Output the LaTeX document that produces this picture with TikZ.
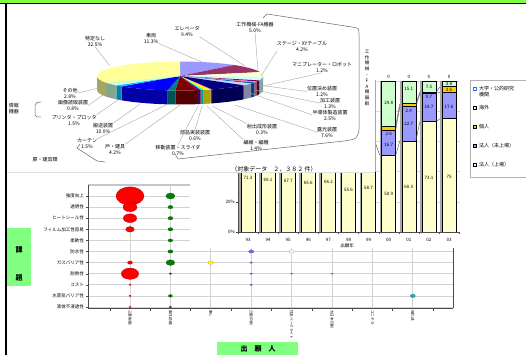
\documentclass[tikz,border=0pt]{standalone}
\usepackage{fontspec}
\newfontfamily\jp{Noto Sans CJK JP}
\usetikzlibrary{calc}

\definecolor{bandgreen}{RGB}{128,255,64}
\definecolor{taggreen}{RGB}{128,255,128}
% pie slices (clockwise from the top)
\definecolor{pieA}{HTML}{9999FF}
\definecolor{pieB}{HTML}{993366}
\definecolor{pieC}{HTML}{FFFFCC}
\definecolor{pieD}{HTML}{CCFFFF}
\definecolor{pieE}{HTML}{660066}
\definecolor{pieF}{HTML}{FF8080}
\definecolor{pieG}{HTML}{0066CC}
\definecolor{pieH}{HTML}{CCCCFF}
\definecolor{pieI}{HTML}{000080}
\definecolor{pieJ}{HTML}{FF00FF}
\definecolor{pieK}{HTML}{FFFF00}
\definecolor{pieL}{HTML}{00FFFF}
\definecolor{pieM}{HTML}{800080}
\definecolor{pieN}{HTML}{800000}
\definecolor{pieO}{HTML}{008080}
\definecolor{pieP}{HTML}{0000FF}
\definecolor{pieQ}{HTML}{00CCFF}
\definecolor{pieR}{HTML}{CCFFFF}
\definecolor{pieS}{HTML}{CCFFCC}
\definecolor{pieT}{HTML}{FFFF99}
% bar series
\definecolor{barlist}{HTML}{FFFFCC}
\definecolor{barunl}{HTML}{9999FF}
\definecolor{barind}{HTML}{FFCC00}
\definecolor{barfor}{HTML}{CCFFCC}
\definecolor{baruni}{HTML}{3366FF}
% bubbles
\definecolor{bubred}{HTML}{FF0000}
\definecolor{bubgreen}{HTML}{008000}
\definecolor{bubyellow}{HTML}{FFFF00}
\definecolor{bubblue}{HTML}{7070E0}
\definecolor{bubcream}{HTML}{FFFFE0}
\definecolor{bubgray}{HTML}{909090}
\definecolor{bubteal}{HTML}{20B0B0}

\tikzset{
  jtxt/.style={font=\jp\fontsize{5}{6}\selectfont,inner sep=0pt,align=center},
  numtxt/.style={font=\jp\fontsize{4.5}{5}\selectfont,inner sep=0pt},
  coltxt/.style={font=\jp\fontsize{3.6}{4}\selectfont,inner sep=0pt,rotate=-90,anchor=west},
  rowtxt/.style={font=\jp\fontsize{4.5}{5}\selectfont,inner sep=0pt,anchor=east},
  lead/.style={gray!70,line width=0.4pt},
  brace/.style={gray!80!black,line width=0.5pt},
  gridc/.style={gray!35,line width=0.8pt},
  axisc/.style={gray!60!black,line width=0.8pt},
  tagbox/.style={fill=taggreen},
}

\begin{document}
\begin{tikzpicture}[x=1pt,y=-1pt]
\useasboundingbox (0,0) rectangle (526,355);
\fill[white] (0,0) rectangle (526,355);

% ---------------- bubble chart (bottom)
\foreach \r in {0,...,10}
  \draw[gridc] (88,{196+11.1*\r}) -- (453,{196+11.1*\r});
\foreach \c in {0,...,7}
  \draw[gridc] ({130+40.4*\c},185) -- ({130+40.4*\c},308);
\draw[gray!45,line width=1.2pt] (88,185) -- (453,185);
\draw[axisc] (88,185) -- (88,308) -- (453,308);
\draw[axisc,line width=1pt] (453,185) -- (453,308);
\foreach \r in {0,...,10}
  \draw[axisc,line width=0.4pt] (86,{196+11.1*\r}) -- (88,{196+11.1*\r});
\foreach \c in {0,...,8}
  \draw[axisc,line width=0.4pt] ({109.8+40.4*\c},308) -- ({109.8+40.4*\c},310.5);

\node[rowtxt] (r1) at (84,196) {強度向上};
\node[rowtxt] (r2) at (84,207.1) {透明性};
\node[rowtxt] (r3) at (84,218.2) {ヒートシール性};
\node[rowtxt] (r4) at (84,229.3) {フィルム加工性容易};
\node[rowtxt] (r5) at (84,240.4) {柔軟性};
\node[rowtxt] (r6) at (84,251.5) {防水性};
\node[rowtxt] (r7) at (84,262.6) {ガスバリア性};
\node[rowtxt] (r8) at (84,273.7) {耐熱性};
\node[rowtxt] (r9) at (84,284.8) {コスト};
\node[rowtxt] (r10) at (84,295.9) {水蒸気バリア性};
\node[rowtxt] (r11) at (84,307) {液体不浸透性};

% bubbles: column / row / size / colour
\foreach \c/\r/\s/\col in {1/1/14/bubred,1/2/7/bubred,1/3/6.7/bubred,1/4/4.3/bubred,
    1/7/2.5/bubred,1/8/8.7/bubred,1/9/1/bubred,1/10/1/bubred,1/11/1/bubred,
    2/1/4.5/bubgreen,2/2/2.5/bubgreen,2/3/2.5/bubgreen,2/4/2.5/bubgreen,
    2/5/2.3/bubgreen,2/6/2.5/bubgreen,2/7/4.3/bubgreen,2/8/1.3/bubgreen,
    2/10/2/bubgreen,2/11/1.3/bubgreen,3/7/2.7/bubyellow,4/6/2.5/bubblue,
    4/7/1.2/bubblue,4/8/1.2/bubblue,4/9/1.2/bubblue,5/6/2.5/bubcream,
    5/8/1/bubgray,6/8/1/bubgray,8/10/2.5/bubteal}
  \filldraw[fill=\col,draw=\col!70!black,line width=0.3pt]
    ({130+40.4*(\c-1)},{196+11.1*(\r-1)}) ellipse[x radius=\s,y radius=0.65*\s];

\node[coltxt] (c1) at (130,310) {三菱樹脂};
\node[coltxt] (c2) at (170.4,310) {東洋紡績};
\node[coltxt] (c3) at (210.8,310) {東レ};
\node[coltxt] (c4) at (251.2,310) {凸版印刷};
\node[coltxt] (c5) at (291.6,310) {住友ベークライト};
\node[coltxt] (c6) at (332,310) {大日本印刷};
\node[coltxt] (c7) at (372.4,310) {ユニチカ};
\node[coltxt] (c8) at (412.8,310) {旭化成};

\fill[tagbox] (7,228) rectangle (31,286);
\node[font=\jp\bfseries\fontsize{7}{7}\selectfont] (kadai1) at (19,250) {課};
\node[font=\jp\bfseries\fontsize{7}{7}\selectfont] (kadai2) at (19,278) {題};
\fill[tagbox] (217,342) rectangle (298,355);
\node[font=\jp\bfseries\fontsize{7}{7}\selectfont] (shutsugan) at (258,349) {出　願　人};

% ---------------- bar chart (middle right)
\fill[white] (190,70) rectangle (526,248);
\foreach \k in {1,...,5}
  \draw[gray!30,line width=0.5pt] (238,{232-30.2*\k}) -- (460,{232-30.2*\k});
\foreach \x/\v in {248/71.3,268.1/69.1,288.2/67.7,308.3/65.6,328.4/66.2,348.5/55.6,368.6/58.7} {
  \fill[gray!70] (\x-9,160) rectangle (\x-7,232);
  \fill[barlist] (\x-7,160) rectangle (\x+7,232);
  \draw[black,line width=0.6pt] (\x-7,160) -- (\x-7,232) -- (\x+7,232) -- (\x+7,160);
  \node[numtxt] at (\x,{232-0.755*\v}) {\v};
}
% stacked bars 00-03: top of listed / unlisted / individual
\foreach \x/\ya/\yb/\yc in {388.7/155.1/129.9/126.0,408.8/141.0/106.7/103.8,
    428.9/121.6/93.4/92.3,449/118.8/92.2/86.7} {
  \fill[gray!70] (\x-9,81) rectangle (\x-7,232);
  \filldraw[fill=barlist,draw=black,line width=0.6pt] (\x-7,\ya) rectangle (\x+7,232);
  \filldraw[fill=barunl,draw=black,line width=0.6pt] (\x-7,\yb) rectangle (\x+7,\ya);
  \filldraw[fill=barind,draw=black,line width=0.6pt] (\x-7,\yc) rectangle (\x+7,\yb);
  \filldraw[fill=barfor,draw=black,line width=0.6pt] (\x-7,81) rectangle (\x+7,\yc);
  \node[numtxt] at (\x,77) {0};
}
% series lines
\foreach \xa/\ya/\xb/\yb in {375.6/143.4/379.7/155.1,395.7/155.1/399.8/141.0,
    395.7/129.9/399.8/106.7,395.7/126.0/399.8/103.8,415.8/141.0/419.9/121.6,
    415.8/106.7/419.9/93.4,415.8/103.8/419.9/92.3,435.9/121.6/440/118.8,
    435.9/93.4/440/92.2,435.9/92.3/440/86.7}
  \draw[gray!60!black,line width=0.4pt] (\xa,\ya) -- (\xb,\yb);
\foreach \x/\y/\t in {388.7/194/50.9,388.7/145/16.7,388.7/134/2.6,388.7/103/29.8,
    408.8/187/60.3,408.8/124/22.7,408.8/111/2.4,408.8/89/15.1,
    428.9/178/73.1,428.9/107/18.7,428.9/97/0.7,428.9/87/7.5,
    449/177/75,449/107/17.6,449/89.5/3.6,449/84/3.8}
  \node[numtxt] at (\x,\y) {\t};

\draw[axisc,line width=0.6pt] (238,160) -- (238,232) -- (460,232);
\foreach \k in {0,...,11}
  \draw[axisc,line width=0.4pt] ({238+20.1*\k},232) -- ({238+20.1*\k},234);
\draw[axisc,line width=0.4pt] (236,232) -- (238,232) (236,201.8) -- (238,201.8);
\node[numtxt,anchor=east] (p0) at (235,232) {0\%};
\node[numtxt,anchor=east] (p20) at (235,201.8) {20\%};
\foreach \x/\t [count=\i] in {248/93,268.1/94,288.2/95,308.3/96,328.4/97,348.5/98,
    368.6/99,388.7/00,408.8/01,428.9/02,449/03}
  \node[numtxt] (yr\i) at (\x,239.5) {\t};
\node[numtxt] (nendo) at (347,245.5) {出願年};

% legend
\draw[gray!60,line width=0.6pt,fill=white] (470,80) rectangle (530,177);
\foreach \y/\col/\t in {108/barfor/海外,127/barind/個人,146/barunl/法人（未上場）,165/barlist/法人（上場）} {
  \filldraw[fill=\col,draw=black,line width=0.3pt] (473.5,\y-1.5) rectangle (476.5,\y+1.5);
  \node[jtxt,anchor=west] at (479,\y) {\t};
}
\filldraw[fill=white,draw=baruni,line width=0.8pt] (473.5,87.5) rectangle (476.5,90.5);
\node[jtxt,anchor=north west,align=left] (daigaku) at (479,86) {大学・公的研究\\機関};

% ---------------- pie chart (top)
\fill[white] (7,4) rectangle (375,172);
\draw[gray!25,line width=0.5pt] (7,172) -- (375,172);
\draw[gray!70,line width=0.6pt] (375,80) -- (375,172);
\node[font=\jp\fontsize{6}{6}\selectfont,inner sep=0pt] (taisho) at (274,169) {（対象データ　２，３８２ 件）};

\begin{scope}[shift={(180,76)}]
  % side faces
  \foreach \a/\b/\col in {0/2.52/pieC,2.52/17.64/pieD,17.64/21.96/pieE,21.96/26.28/pieF,
      26.28/30.96/pieG,30.96/39.96/pieH,39.96/67.32/pieI,67.32/68.40/pieJ,
      68.40/73.44/pieK,73.44/75.60/pieL,75.60/78.12/pieM,78.12/93.24/pieN,
      93.24/98.64/pieO,98.64/134.64/pieP,134.64/140.04/pieQ,140.04/142.92/pieR,
      142.92/153/pieS,153/180/pieT}
    \fill[\col!65!black] (\a:83 and 14.5) arc[start angle=\a,end angle=\b,x radius=83,y radius=14.5]
      -- ++(0,14) arc[start angle=\b,end angle=\a,x radius=83,y radius=14.5] -- cycle;
  % top faces
  \foreach \a/\b/\col in {-90/-49.32/pieA,-49.32/-15.48/pieB,-15.48/2.52/pieC,2.52/17.64/pieD,
      17.64/21.96/pieE,21.96/26.28/pieF,26.28/30.96/pieG,30.96/39.96/pieH,
      39.96/67.32/pieI,67.32/68.40/pieJ,68.40/73.44/pieK,73.44/75.60/pieL,
      75.60/78.12/pieM,78.12/93.24/pieN,93.24/98.64/pieO,98.64/134.64/pieP,
      134.64/140.04/pieQ,140.04/142.92/pieR,142.92/153/pieS,153/270/pieT}
    \fill[\col] (0,0) -- (\a:83 and 14.5) arc[start angle=\a,end angle=\b,x radius=83,y radius=14.5] -- cycle;
\end{scope}

% labels
\node[jtxt] (tokutei) at (95,41.5) {特定なし\\32.5\%};
\node[jtxt] (sharyo) at (151,38) {車両\\11.3\%};
\node[jtxt] (elev) at (187,31.5) {エレベータ\\9.4\%};
\node[jtxt] (kosaku) at (255,27) {工作機械-FA機器\\5.0\%};
\node[jtxt] (stage) at (302,46) {ステージ・XYテーブル\\4.2\%};
\node[jtxt] (mani) at (322,67.5) {マニプレーター・ロボット\\1.2\%};
\node[jtxt] (ichi) at (322,91.5) {位置決め装置\\1.2\%};
\node[jtxt] (kako) at (330,103) {加工装置\\1.3\%};
\node[jtxt] (handou) at (330,115) {半導体製造装置\\2.5\%};
\node[jtxt] (roko) at (327,132) {露光装置\\7.6\%};
\node[jtxt] (shashutsu) at (262,129) {射出成形装置\\0.3\%};
\node[jtxt] (seni) at (256,145) {繊維・編機\\1.4\%};
\node[jtxt] (buhin) at (195,135.5) {部品実装装置\\0.6\%};
\node[jtxt] (ido) at (178,150) {移動装置・スライダ\\0.7\%};
\node[jtxt] (tobiragu) at (115,149.5) {戸・建具\\4.2\%};
\node[jtxt] (curtain) at (87,144) {カーテン\\1.5\%};
\node[jtxt] (hanso) at (103,128.5) {搬送装置\\10.0\%};
\node[jtxt] (printer) at (74,120) {プリンタ・プロッタ\\1.5\%};
\node[jtxt] (gazo) at (73,105.5) {画像読取装置\\0.8\%};
\node[jtxt] (sonota) at (70,93) {その他\\2.8\%};
\node[jtxt] (joho) at (14,109) {情報\\機器};
\node[jtxt] (tobira) at (45,160) {扉・建具類};
\node[font=\jp\fontsize{4.5}{5.8}\selectfont,inner sep=0pt,align=center] (fagroup) at (367,78)
  {工\\作\\機\\械\\・\\F\\A\\機\\器\\群};

% leader lines
\draw[lead] (tokutei.south) -- (110,66);
\draw[lead] (sharyo.south east) -- (204,63);
\draw[lead] (elev.south east) -- (245,66);
\draw[lead] (kosaku.south) -- (258,71);
\draw[lead] (stage.south west) -- (261,76);
\draw[lead] (mani.south) -- (263,86);
\draw[lead] (ichi.west) -- (258,85);
\draw[lead] (kako.west) -- (255,90);
\draw[lead] (handou.west) -- (250,93);
\draw[lead] (roko.west) -- (235,105);
\draw[lead] (shashutsu.north west) -- (212,106);
\draw[lead] (seni.north west) -- (207,106);
\draw[lead] (buhin.north) -- (202,106);
\draw[lead] (ido.north) -- (198,106);
\draw[lead] (tobiragu.north east) -- (180,105);
\draw[lead] (curtain.north east) -- (168,104);
\draw[lead] (hanso.north east) -- (140,104);
\draw[lead] (printer.north east) -- (118,100);
\draw[lead] (gazo.east) -- (103,95);
\draw[lead] (sonota.east) -- (99,88);

% brackets
\draw[brace] (41,102) -- (37,102.5) -- (35,105) -- (35,115) -- (37,117) -- (41,117);
\draw[brace] (80,144) -- (77,148) -- (97,161) -- (105,162);
\draw[brace] (175,154) -- (178,159) -- (344,141) .. controls (357,139) .. (359,130)
  -- (359,35) .. controls (359,28) .. (352,27) -- (267,14) -- (263,18);

% frame
\fill[bandgreen] (0,0) rectangle (526,2.7);
\draw[black,line width=1.4pt] (0,3.4) -- (526,3.4);
\draw[black,line width=2pt] (6,3) -- (6,355);
\end{tikzpicture}
\end{document}
